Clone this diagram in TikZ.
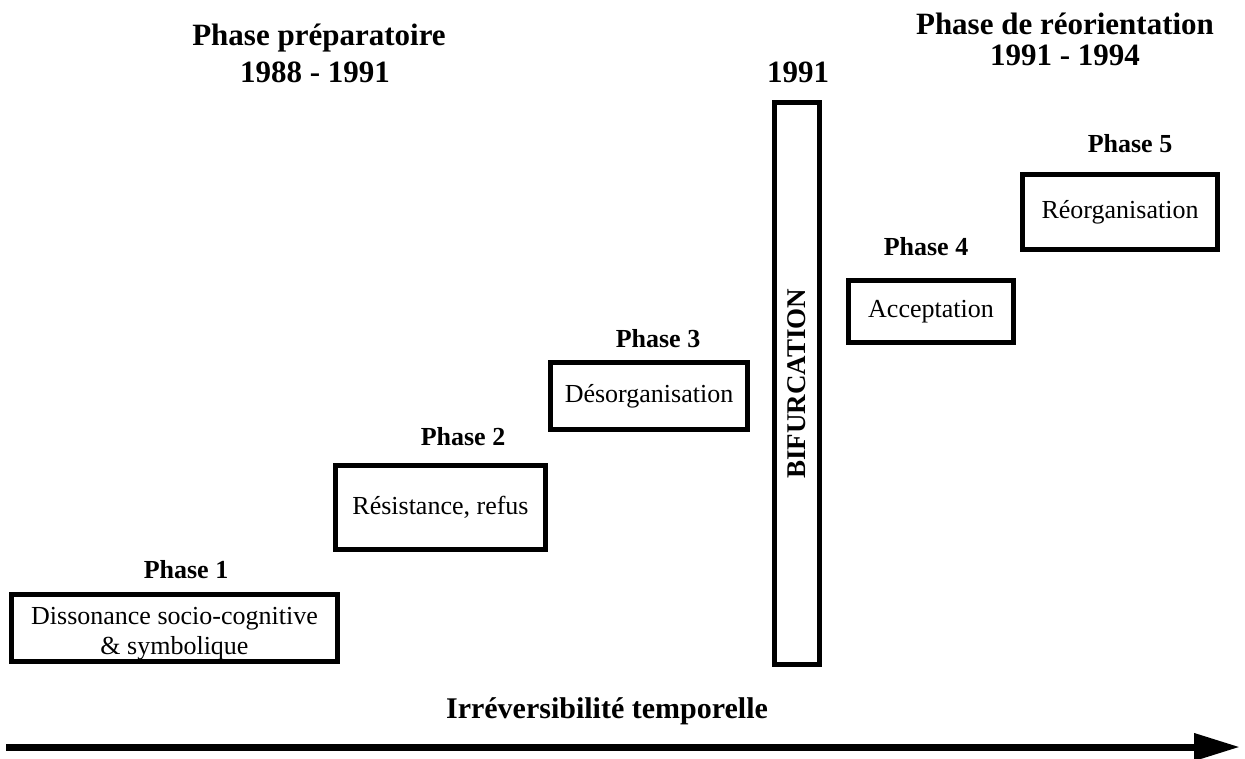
\documentclass[tikz,border=0pt]{standalone}
\usepackage{fontspec}
\setmainfont{Liberation Serif}
\usetikzlibrary{arrows.meta}

\begin{document}
\begin{tikzpicture}[x=1pt,y=-1pt,
  phasebox/.style={draw, line width=5pt, inner sep=0pt, align=center,
    font=\fontsize{26}{30}\selectfont},
  boxtext/.style={inner sep=0pt, align=center, font=\fontsize{26}{30}\selectfont},
  title/.style={font=\bfseries\fontsize{31}{34}\selectfont, anchor=base, inner sep=0pt},
  phaselabel/.style={font=\bfseries\fontsize{26}{30}\selectfont, anchor=base, inner sep=0pt},
  timeline/.style={line width=7pt, -{Triangle[length=46pt,width=26pt]}}]
\useasboundingbox (0,0) rectangle (1245,758);

% period headings
\node[title] (prep)  at (319,45) {Phase préparatoire};
\node[title] (prepy) at (315,82) {1988 - 1991};
\node[title] (bify)  at (798,82) {1991};
\node[title] (reor)  at (1065,34) {Phase de réorientation};
\node[title] (reory) at (1065,65) {1991 - 1994};

% phase labels
\node[phaselabel] (l1) at (186,578) {Phase 1};
\node[phaselabel] (l2) at (463,445) {Phase 2};
\node[phaselabel] (l3) at (658,347) {Phase 3};
\node[phaselabel] (l4) at (926,255) {Phase 4};
\node[phaselabel] (l5) at (1130,152) {Phase 5};

% phase boxes
\node[phasebox, minimum width=326pt, minimum height=67pt] (p1) at (174.5,628) {};
\node[boxtext, anchor=north] (p1t) at (174.5,607)
  {Dissonance socio-cognitive\\\& symbolique};
\node[phasebox, minimum width=210pt, minimum height=84pt] (p2) at (440.5,507.5)
  {Résistance, refus};
\node[phasebox, minimum width=197pt, minimum height=67pt] (p3) at (649,396)
  {Désorganisation};
\node[phasebox, minimum width=165pt, minimum height=62pt] (p4) at (931,311.5)
  {Acceptation};
\node[phasebox, minimum width=195pt, minimum height=75pt] (p5) at (1120,212)
  {Réorganisation};

% bifurcation bar
\node[draw, line width=5pt, inner sep=0pt, rotate=90,
  minimum width=562pt, minimum height=45pt,
  font=\bfseries\fontsize{27}{30}\selectfont] (bif) at (797,383.5) {BIFURCATION};

% time axis
\node[title, font=\bfseries\fontsize{30}{34}\selectfont] (axis) at (607,718)
  {Irréversibilité temporelle};
\coordinate (t0) at (6,747);
\coordinate (t1) at (1240,747);
\draw[timeline] (t0) -- (t1);
\end{tikzpicture}
\end{document}
